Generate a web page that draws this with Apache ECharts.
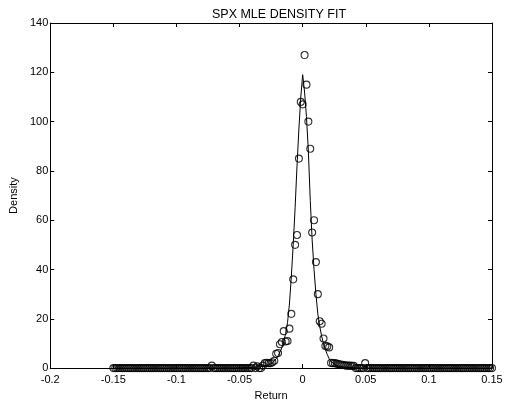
<!DOCTYPE html>
<html>
<head>
<meta charset="utf-8">
<style>
  html, body { margin: 0; padding: 0; background: #fff; }
  #chart { width: 506px; height: 406px; }
</style>
<script src="https://cdn.jsdelivr.net/npm/echarts@6/dist/echarts.min.js"></script>
</head>
<body>
<div id="chart"></div>
<script>
// Histogram bins of SPX daily returns: centres start at binStart, spaced binWidth apart
const binStart = -0.15;
const binWidth = 0.0015;
// Empirical density in each bin (201 bins, -0.15 ... 0.15)
const binDensity = [
  // -0.15 .. -0.0765
  0,0,0,0,0,0,0,0,0,0, 0,0,0,0,0,0,0,0,0,0,
  0,0,0,0,0,0,0,0,0,0, 0,0,0,0,0,0,0,0,0,0,
  0,0,0,0,0,0,0,0,0,0,
  // -0.075 .. -0.039
  0,0,1,0,0,0,0,0,0,0, 0,0,0,0,0,0,0,0,0,0, 0,0,0,0,1,
  // -0.0375 .. -0.0015
  0,0.7,0,0,1,2,2.2,2,2,2.4,3,5.8,6.1,9.7,10.6,15,10.8,11,16,22,36,50,54,85,108,107,
  // 0
  127,
  // 0.0015 .. 0.0405
  115,100,89,55,60,43,30,19,18,12,9,8.8,8.4,2.1,2,2,1.8,1.6,1.4,1.3,1.2,1,1,1,0.9,0.9,
  // 0.042 .. 0.15
  0,0,0,0,0,2,0,0,0,0, 0,0,0,0,0,0,0,0,0,0,
  0,0,0,0,0,0,0,0,0,0, 0,0,0,0,0,0,0,0,0,0,
  0,0,0,0,0,0,0,0,0,0, 0,0,0,0,0,0,0,0,0,0,
  0,0,0,0,0,0,0,0,0,0, 0,0,0
];

// Fitted MLE density curve
const fitReturn = [
  -0.15, -0.1, -0.07, -0.05, -0.04, -0.035, -0.03, -0.027, -0.024, -0.0225,
  -0.021, -0.0195, -0.018, -0.0165, -0.015, -0.0135, -0.012, -0.0105, -0.009, -0.0075,
  -0.006, -0.0045, -0.003, -0.0015, 0,
  0.0015, 0.003, 0.0045, 0.006, 0.0075, 0.009, 0.0105, 0.012, 0.0135, 0.015,
  0.0165, 0.018, 0.0195, 0.021, 0.0225, 0.024, 0.027, 0.03, 0.035, 0.04,
  0.05, 0.07, 0.1, 0.15
];
const fitDensity = [
  0, 0.01, 0.03, 0.1, 0.25, 0.45, 0.8, 1.3, 2.1, 2.8,
  3.8, 5, 6.5, 8.3, 10.8, 14, 18.5, 26, 37, 50,
  65, 82, 97, 110, 119,
  112, 102, 88, 68, 52, 40, 30, 22, 17, 13,
  10, 7.5, 5.5, 3.8, 2.6, 1.8, 1, 0.6, 0.3, 0.15,
  0.06, 0.02, 0.01, 0
];

// Axis ranges and tick spacing
const xMin = -0.2, xMax = 0.15, xStep = 0.05;
const yMin = 0, yMax = 140, yStep = 20;

const histPoints = binDensity.map((d, i) => [+(binStart + i * binWidth).toFixed(5), d]);
const fitPoints = fitReturn.map((r, i) => [r, fitDensity[i]]);

const FONT = 'Liberation Sans, Arial, Helvetica, sans-serif';
const ink = '#000';

function xAxisCfg(pos, labels) {
  return {
    type: 'value', position: pos, min: xMin, max: xMax, interval: xStep,
    axisLine: { show: true, onZero: false, lineStyle: { color: ink, width: 1 } },
    axisTick: { show: true, inside: true, length: 4, lineStyle: { color: ink } },
    axisLabel: {
      show: labels, color: ink, fontSize: 11, fontFamily: FONT, margin: 6,
      showMinLabel: true, showMaxLabel: true,
      formatter: v => String(+v.toFixed(2))
    },
    splitLine: { show: false }
  };
}
function yAxisCfg(pos, labels) {
  return {
    type: 'value', position: pos, min: yMin, max: yMax, interval: yStep,
    axisLine: { show: true, onZero: false, lineStyle: { color: ink, width: 1 } },
    axisTick: { show: true, inside: true, length: 4, lineStyle: { color: ink } },
    axisLabel: {
      show: labels, color: ink, fontSize: 11, fontFamily: FONT, margin: 2,
      showMinLabel: true, showMaxLabel: true
    },
    splitLine: { show: false }
  };
}

const chart = echarts.init(document.getElementById('chart'), null, { renderer: 'canvas' });
const bottomX = xAxisCfg('bottom', true);
bottomX.name = 'Return';
bottomX.nameLocation = 'middle';
bottomX.nameGap = 13;
bottomX.nameTextStyle = { color: ink, fontSize: 11, fontFamily: FONT };
const leftY = yAxisCfg('left', true);
leftY.name = 'Density';
leftY.nameLocation = 'middle';
leftY.nameGap = 24;
leftY.nameTextStyle = { color: ink, fontSize: 11, fontFamily: FONT };

chart.setOption({
  backgroundColor: '#fff',
  animation: false,
  title: {
    text: 'SPX MLE DENSITY FIT',
    left: 274, top: 3, textAlign: 'center',
    textStyle: { color: ink, fontSize: 12.5, fontWeight: 'normal', fontFamily: FONT }
  },
  grid: { left: 47, right: 14, top: 23, bottom: 32, containLabel: false },
  xAxis: [bottomX, xAxisCfg('top', false)],
  yAxis: [leftY, yAxisCfg('right', false)],
  series: [
    {
      name: 'fit', type: 'line', data: fitPoints, xAxisIndex: 0, yAxisIndex: 0,
      showSymbol: false, symbol: 'none', smooth: false,
      lineStyle: { color: ink, width: 1 }, z: 2
    },
    {
      name: 'histogram', type: 'scatter', data: histPoints, xAxisIndex: 0, yAxisIndex: 0,
      symbol: 'circle', symbolSize: 7, clip: false,
      itemStyle: { color: 'rgba(0,0,0,0)', borderColor: ink, borderWidth: 1.1 }, z: 3
    }
  ]
});
</script>
</body>
</html>
